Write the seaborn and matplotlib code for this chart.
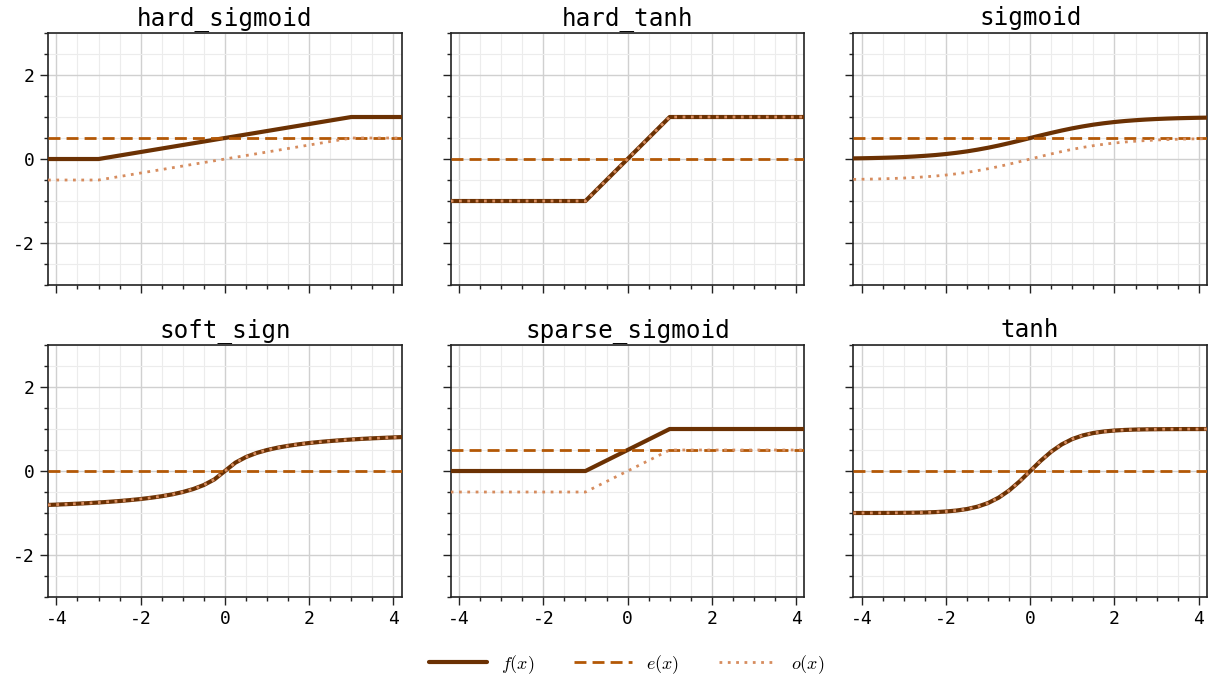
import numpy as np
import pandas as pd
import matplotlib
matplotlib.use("Agg")
import matplotlib.pyplot as plt
from matplotlib.ticker import MultipleLocator
import seaborn as sns

# sample points (symmetric grid, so reversing a list gives f(-x))
x_smooth = [-4.2, -4.0, -3.75, -3.5, -3.25, -3.0, -2.75, -2.5, -2.25, -2.0, -1.75, -1.5,
            -1.25, -1.0, -0.75, -0.5, -0.25, 0.0, 0.25, 0.5, 0.75, 1.0, 1.25, 1.5,
            1.75, 2.0, 2.25, 2.5, 2.75, 3.0, 3.25, 3.5, 3.75, 4.0, 4.2]

sigmoid_y = [0.015, 0.018, 0.023, 0.029, 0.037, 0.047, 0.060, 0.076, 0.095, 0.119, 0.148, 0.182,
             0.223, 0.269, 0.321, 0.378, 0.438, 0.500, 0.562, 0.622, 0.679, 0.731, 0.777, 0.818,
             0.852, 0.881, 0.905, 0.924, 0.940, 0.953, 0.963, 0.971, 0.977, 0.982, 0.985]

soft_sign_y = [-0.808, -0.800, -0.789, -0.778, -0.765, -0.750, -0.733, -0.714, -0.692, -0.667, -0.636, -0.600,
               -0.556, -0.500, -0.429, -0.333, -0.200, 0.000, 0.200, 0.333, 0.429, 0.500, 0.556, 0.600,
               0.636, 0.667, 0.692, 0.714, 0.733, 0.750, 0.765, 0.778, 0.789, 0.800, 0.808]

tanh_y = [-1.000, -0.999, -0.999, -0.998, -0.997, -0.995, -0.992, -0.987, -0.978, -0.964, -0.941, -0.905,
          -0.848, -0.762, -0.635, -0.462, -0.245, 0.000, 0.245, 0.462, 0.635, 0.762, 0.848, 0.905,
          0.941, 0.964, 0.978, 0.987, 0.992, 0.995, 0.997, 0.998, 0.999, 0.999, 1.000]

x_hard_sigmoid = [-4.2, -3.0, 3.0, 4.2]
hard_sigmoid_y = [0.0, 0.0, 1.0, 1.0]

x_hard_tanh = [-4.2, -1.0, 1.0, 4.2]
hard_tanh_y = [-1.0, -1.0, 1.0, 1.0]

x_sparse_sigmoid = [-4.2, -1.0, 1.0, 4.2]
sparse_sigmoid_y = [0.0, 0.0, 1.0, 1.0]

titles = ["hard_sigmoid", "hard_tanh", "sigmoid", "soft_sign", "sparse_sigmoid", "tanh"]
xs = [x_hard_sigmoid, x_hard_tanh, x_smooth, x_smooth, x_sparse_sigmoid, x_smooth]
ys = [hard_sigmoid_y, hard_tanh_y, sigmoid_y, soft_sign_y, sparse_sigmoid_y, tanh_y]

c_f = "#6b3103"
c_e = "#b35806"
c_o = "#d68c5e"

sns.set_theme(style="white")
plt.rcParams["font.family"] = ["DejaVu Sans Mono"]
plt.rcParams["axes.unicode_minus"] = False
plt.rcParams["mathtext.fontset"] = "cm"
plt.rcParams["text.color"] = "black"
plt.rcParams["xtick.color"] = "#222222"
plt.rcParams["ytick.color"] = "#222222"
plt.rcParams["xtick.labelcolor"] = "black"
plt.rcParams["ytick.labelcolor"] = "black"

fig, axes = plt.subplots(2, 3, figsize=(12.12, 6.82), dpi=100, sharex=True, sharey=True)
fig.subplots_adjust(left=0.0396, right=0.996, top=0.9516, bottom=0.1246, wspace=0.138, hspace=0.238)

for ax, title, x, y in zip(axes.flat, titles, xs, ys):
    f = np.array(y)
    e = (f + f[::-1]) / 2   # even part
    o = (f - f[::-1]) / 2   # odd part
    df = pd.DataFrame({"x": x, "f": f, "e": e, "o": o})
    sns.lineplot(data=df, x="x", y="f", ax=ax, color=c_f, lw=3, sort=False, label="$f(x)$", zorder=3)
    sns.lineplot(data=df, x="x", y="e", ax=ax, color=c_e, lw=2, ls=(0, (4.3, 2.2)), sort=False,
                 label="$e(x)$", zorder=4)
    sns.lineplot(data=df, x="x", y="o", ax=ax, color=c_o, lw=2, ls=(0, (1, 2)), sort=False,
                 label="$o(x)$", zorder=5)
    ax.get_legend().remove()
    ax.set_title(title, fontsize=17.5, pad=6, color="black")
    ax.set_xlabel("")
    ax.set_ylabel("")
    ax.set_xlim(-4.2, 4.2)
    ax.set_ylim(-3, 3)
    ax.xaxis.set_major_locator(MultipleLocator(2))
    ax.xaxis.set_minor_locator(MultipleLocator(0.5))
    ax.yaxis.set_major_locator(MultipleLocator(2))
    ax.yaxis.set_minor_locator(MultipleLocator(0.5))
    ax.grid(which="major", color="#d0d0d0", lw=1)
    ax.grid(which="minor", color="#ececec", lw=0.8)
    ax.set_axisbelow(True)
    ax.tick_params(which="major", direction="out", length=6, width=1, labelsize=13,
                   bottom=True, left=True)
    ax.tick_params(which="minor", direction="out", length=3, width=1,
                   bottom=True, left=True)
    for s in ax.spines.values():
        s.set_color("#222222")
        s.set_linewidth(1.2)

handles, labels = axes[0, 0].get_legend_handles_labels()
fig.legend(handles, labels, loc="center", bbox_to_anchor=(0.517, 0.026), ncol=3, frameon=False,
           fontsize=13, handlelength=3.2, columnspacing=2.2)

plt.savefig("out.png", dpi=100)
